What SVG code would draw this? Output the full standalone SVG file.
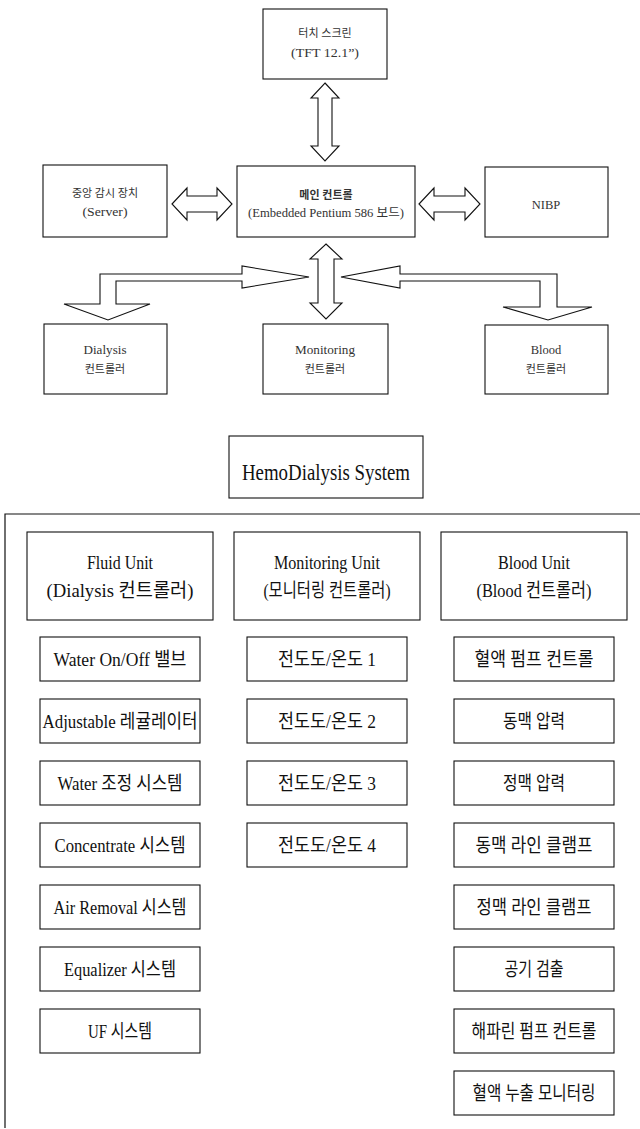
<svg xmlns="http://www.w3.org/2000/svg" width="640" height="1129" viewBox="0 0 640 1129">
<style>
.bx{fill:#fff;stroke:#111;stroke-width:1.1}
.ar{fill:#fff;stroke:#111;stroke-width:1.1;stroke-linejoin:miter}
.t{font-family:"Liberation Serif","Noto Sans CJK KR",serif;font-size:11px;fill:#333;text-anchor:middle}
.tl{font-family:"Liberation Serif","Noto Sans CJK KR",serif;font-size:12.5px;fill:#333;text-anchor:middle}
.h{font-family:"Liberation Serif","Noto Sans CJK KR",serif;font-size:19px;fill:#111;text-anchor:middle}
.i{font-family:"Liberation Serif","Noto Sans CJK KR",serif;font-size:19px;fill:#111;text-anchor:middle}
</style>
<rect width="640" height="1129" fill="#fff"/>
<g id="touch"><rect class="bx" x="263" y="9" width="124" height="70"/><text class="t" x="325" y="37">터치 스크린</text><text class="tl" x="325" y="57" textLength="68" lengthAdjust="spacingAndGlyphs">(TFT 12.1”)</text></g>
<g id="server"><rect class="bx" x="43" y="165" width="124" height="72"/><text class="t" x="105" y="197">중앙 감시 장치</text><text class="tl" x="105" y="216" textLength="45" lengthAdjust="spacingAndGlyphs">(Server)</text></g>
<g id="main"><rect class="bx" x="237" y="166" width="178" height="71"/><text class="t" x="326" y="199" font-weight="bold">메인 컨트롤</text><text class="tl" x="326" y="217" textLength="156" lengthAdjust="spacingAndGlyphs">(Embedded Pentium 586 보드)</text></g>
<g id="nibp"><rect class="bx" x="485" y="167" width="123" height="70"/><text class="tl" x="546" y="209">NIBP</text></g>
<g id="dialysis"><rect class="bx" x="44" y="324" width="123" height="70"/><text class="tl" x="105" y="354" textLength="43" lengthAdjust="spacingAndGlyphs">Dialysis</text><text class="t" x="105" y="373">컨트롤러</text></g>
<g id="monitoring"><rect class="bx" x="263" y="324" width="125" height="70"/><text class="tl" x="325" y="354" textLength="60" lengthAdjust="spacingAndGlyphs">Monitoring</text><text class="t" x="325" y="373">컨트롤러</text></g>
<g id="blood"><rect class="bx" x="485" y="325" width="123" height="69"/><text class="tl" x="546" y="354">Blood</text><text class="t" x="546" y="373">컨트롤러</text></g>
<g id="connectors">
<path class="ar" d="M325,83 L339,98 L332,98 L332,146 L339,146 L325,161 L311,146 L318,146 L318,98 L311,98 Z"/>
<path class="ar" d="M172,204 L187,188 L187,196 L217,196 L217,188 L232,204 L217,220 L217,212 L187,212 L187,220 Z"/>
<path class="ar" d="M419,204 L434,188 L434,196 L465,196 L465,188 L480,204 L465,220 L465,212 L434,212 L434,220 Z"/>
<path class="ar" d="M326,244 L342,259 L334,259 L334,303 L342,303 L326,319 L310,303 L318,303 L318,259 L310,259 Z"/>
<path class="ar" d="M309,277 L242,266 L242,274 L100,274 L100,304 L64,304 L108,320 L150,304 L116,304 L116,281 L242,281 L242,288 Z"/>
<path class="ar" d="M341,277 L400,266 L400,274 L557,274 L557,307 L592,307 L548,320 L503,307 L540,307 L540,281 L400,281 L400,288 Z"/>
</g>
<g id="hemo"><rect class="bx" x="229" y="436" width="194" height="62"/><text x="326" y="480" font-family="Liberation Serif" font-size="24" fill="#111" text-anchor="middle" textLength="168" lengthAdjust="spacingAndGlyphs">HemoDialysis System</text></g>
<g id="system-frame"><path d="M640,514 H5 V1128" fill="none" stroke="#111" stroke-width="1.2"/></g>
<g id="fluid-unit"><rect class="bx" x="27" y="532" width="186" height="88"/><text class="h" x="120" y="569" textLength="66" lengthAdjust="spacingAndGlyphs">Fluid Unit</text><text class="h" x="120" y="597" textLength="147" lengthAdjust="spacingAndGlyphs">(Dialysis 컨트롤러)</text></g>
<g id="monitoring-unit"><rect class="bx" x="234" y="532" width="186" height="88"/><text class="h" x="327" y="569" textLength="106" lengthAdjust="spacingAndGlyphs">Monitoring Unit</text><text class="h" x="327" y="597" textLength="127" lengthAdjust="spacingAndGlyphs">(모니터링 컨트롤러)</text></g>
<g id="blood-unit"><rect class="bx" x="441" y="532" width="186" height="88"/><text class="h" x="534" y="569" textLength="72" lengthAdjust="spacingAndGlyphs">Blood Unit</text><text class="h" x="534" y="597" textLength="115" lengthAdjust="spacingAndGlyphs">(Blood 컨트롤러)</text></g>
<g id="f1"><rect class="bx" x="40" y="637" width="160" height="44"/><text class="i" x="120" y="666" textLength="133" lengthAdjust="spacingAndGlyphs">Water On/Off 밸브</text></g>
<g id="f2"><rect class="bx" x="40" y="699" width="160" height="44"/><text class="i" x="120" y="728" textLength="155" lengthAdjust="spacingAndGlyphs">Adjustable 레귤레이터</text></g>
<g id="f3"><rect class="bx" x="40" y="761" width="160" height="44"/><text class="i" x="120" y="790" textLength="125" lengthAdjust="spacingAndGlyphs">Water 조정 시스템</text></g>
<g id="f4"><rect class="bx" x="40" y="823" width="160" height="44"/><text class="i" x="120" y="852" textLength="131" lengthAdjust="spacingAndGlyphs">Concentrate 시스템</text></g>
<g id="f5"><rect class="bx" x="40" y="885" width="160" height="44"/><text class="i" x="120" y="914" textLength="133" lengthAdjust="spacingAndGlyphs">Air Removal 시스템</text></g>
<g id="f6"><rect class="bx" x="40" y="947" width="160" height="44"/><text class="i" x="120" y="976" textLength="112" lengthAdjust="spacingAndGlyphs">Equalizer 시스템</text></g>
<g id="f7"><rect class="bx" x="40" y="1009" width="160" height="44"/><text class="i" x="120" y="1038" textLength="64" lengthAdjust="spacingAndGlyphs">UF 시스템</text></g>
<g id="m1"><rect class="bx" x="247" y="637" width="160" height="44"/><text class="i" x="327" y="666" textLength="98" lengthAdjust="spacingAndGlyphs">전도도/온도 1</text></g>
<g id="m2"><rect class="bx" x="247" y="699" width="160" height="44"/><text class="i" x="327" y="728" textLength="98" lengthAdjust="spacingAndGlyphs">전도도/온도 2</text></g>
<g id="m3"><rect class="bx" x="247" y="761" width="160" height="44"/><text class="i" x="327" y="790" textLength="98" lengthAdjust="spacingAndGlyphs">전도도/온도 3</text></g>
<g id="m4"><rect class="bx" x="247" y="823" width="160" height="44"/><text class="i" x="327" y="852" textLength="98" lengthAdjust="spacingAndGlyphs">전도도/온도 4</text></g>
<g id="b1"><rect class="bx" x="454" y="637" width="160" height="44"/><text class="i" x="534" y="666" textLength="119" lengthAdjust="spacingAndGlyphs">혈액 펌프 컨트롤</text></g>
<g id="b2"><rect class="bx" x="454" y="699" width="160" height="44"/><text class="i" x="534" y="728" textLength="62" lengthAdjust="spacingAndGlyphs">동맥 압력</text></g>
<g id="b3"><rect class="bx" x="454" y="761" width="160" height="44"/><text class="i" x="534" y="790" textLength="62" lengthAdjust="spacingAndGlyphs">정맥 압력</text></g>
<g id="b4"><rect class="bx" x="454" y="823" width="160" height="44"/><text class="i" x="534" y="852" textLength="117" lengthAdjust="spacingAndGlyphs">동맥 라인 클램프</text></g>
<g id="b5"><rect class="bx" x="454" y="885" width="160" height="44"/><text class="i" x="534" y="914" textLength="115" lengthAdjust="spacingAndGlyphs">정맥 라인 클램프</text></g>
<g id="b6"><rect class="bx" x="454" y="947" width="160" height="44"/><text class="i" x="534" y="976" textLength="59" lengthAdjust="spacingAndGlyphs">공기 검출</text></g>
<g id="b7"><rect class="bx" x="454" y="1009" width="160" height="44"/><text class="i" x="534" y="1038" textLength="125" lengthAdjust="spacingAndGlyphs">해파린 펌프 컨트롤</text></g>
<g id="b8"><rect class="bx" x="454" y="1071" width="160" height="44"/><text class="i" x="534" y="1100" textLength="123" lengthAdjust="spacingAndGlyphs">혈액 누출 모니터링</text></g>
</svg>
